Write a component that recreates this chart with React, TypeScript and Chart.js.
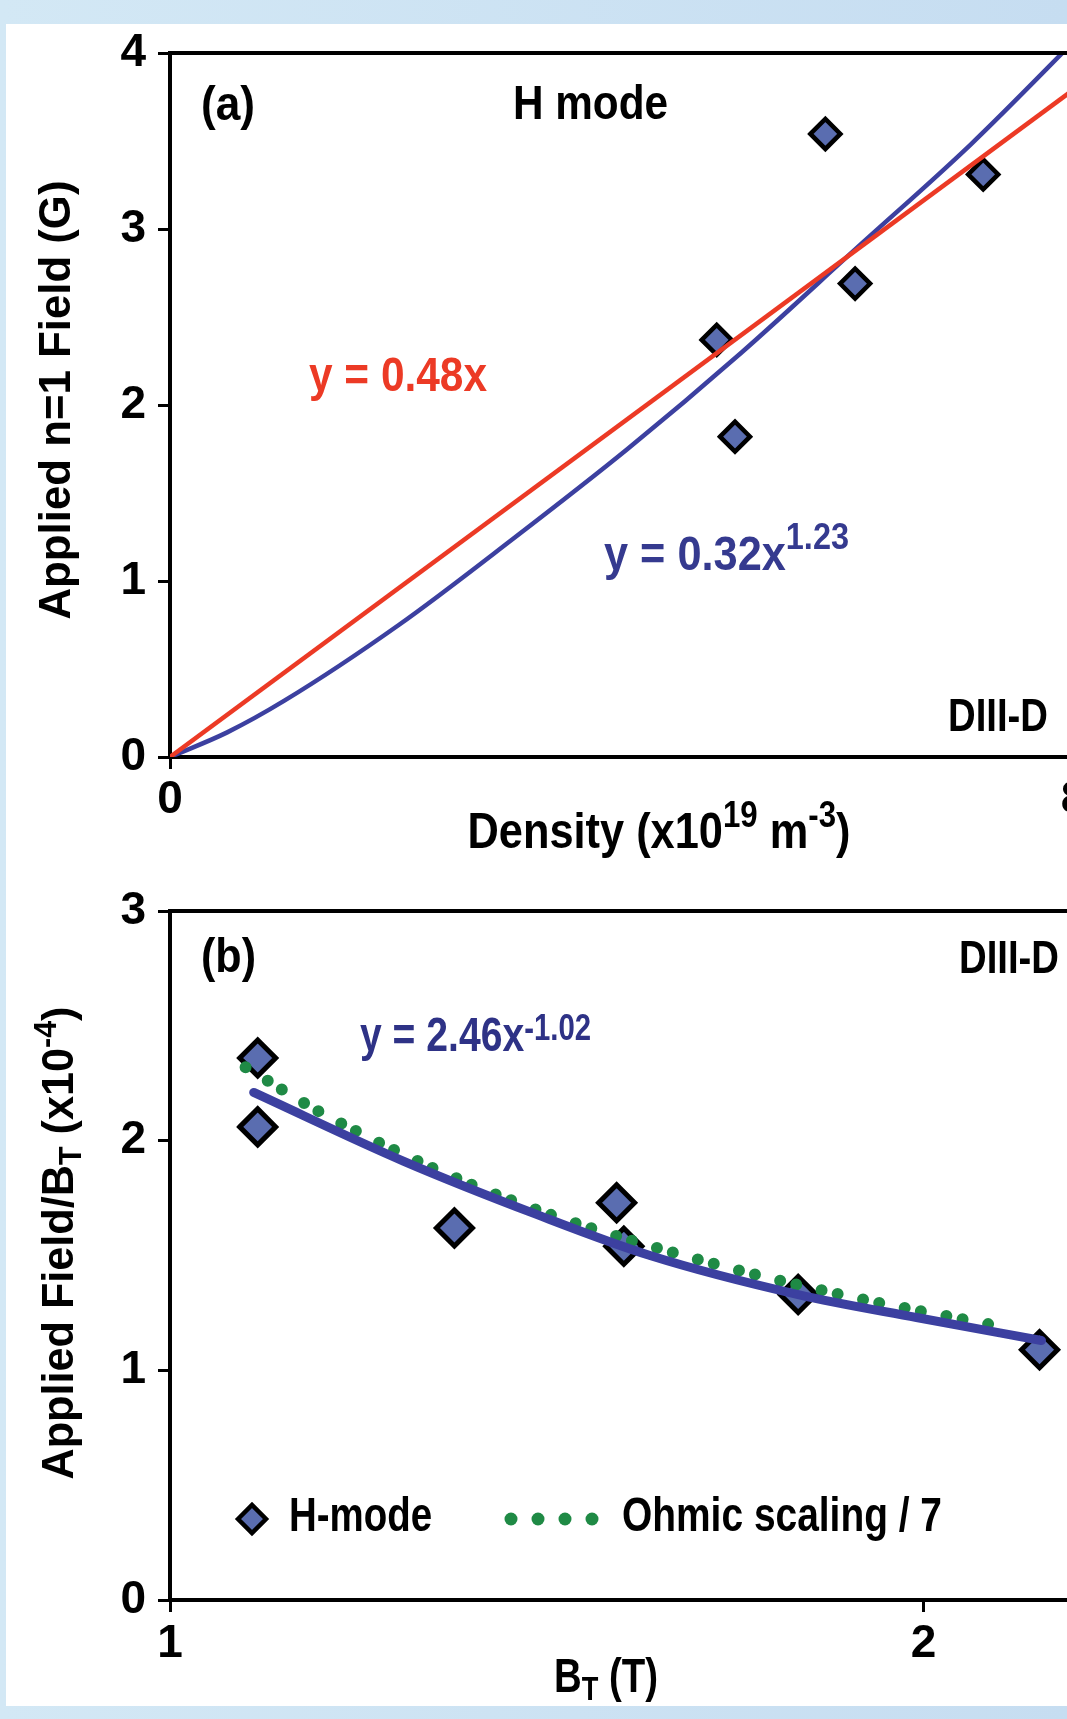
import React, { useEffect, useRef } from 'react';
import { Chart, registerables } from 'chart.js';

Chart.register(...registerables);

// ---------- Panel (a): Applied n=1 field vs density ----------
const densityTicks = [0, 8];
const fieldTicks = [0, 1, 2, 3, 4];
const hModeDensity = [4.78, 4.94, 5.73, 5.99, 7.11];
const hModeField = [2.37, 1.82, 3.54, 2.69, 3.31];
const linFitDensity = [0, 8];
const linFitField = [0, 3.84];
const powFitDensity = [0, 0.5, 1, 2, 3, 4, 5, 6, 7, 8];
const powFitField = [0, 0.14, 0.32, 0.75, 1.24, 1.75, 2.3, 2.89, 3.48, 4.13];

// ---------- Panel (b): Applied field / BT vs BT ----------
const btTicks = [1, 2];
const ratioTicks = [0, 1, 2, 3];
const hModeBt = [1.084, 1.084, 1.299, 1.508, 1.518, 1.782, 2.225];
const hModeRatio = [2.36, 2.06, 1.62, 1.73, 1.54, 1.33, 1.09];
const fitBt = [1.08, 1.24, 1.4, 1.555, 1.782, 1.987, 2.229];
const fitRatio = [2.21, 1.91, 1.68, 1.5, 1.33, 1.23, 1.13];
const ohmicBt = [1.072, 1.15, 1.277, 1.417, 1.628, 1.87, 2.125];
const ohmicRatio = [2.32, 2.12, 1.875, 1.68, 1.48, 1.32, 1.2];

const SANS = "'Liberation Sans', Arial, Helvetica, sans-serif";
const NARROW = "'Liberation Sans Narrow', 'Liberation Sans', Arial, sans-serif";
const RED = '#ec3a25';
const BLUE = '#3c40a0';
const BLUE_TEXT = '#353a8f';
const NAVY_TEXT = '#2e3286';
const DIAMOND = '#5a6db0';
const GREEN = '#1f8a45';

type Run = { t: string; size: number; dy?: number };

function drawRich(
  ctx: CanvasRenderingContext2D,
  runs: Run[],
  x: number,
  y: number,
  o: { color: string; width?: number; align?: 'left' | 'center'; rotate?: boolean }
) {
  ctx.save();
  let total = 0;
  const ws = runs.map((r) => {
    ctx.font = `bold ${r.size}px ${SANS}`;
    const w = ctx.measureText(r.t).width;
    total += w;
    return w;
  });
  const sx = o.width ? o.width / total : 1;
  ctx.translate(x, y);
  if (o.rotate) ctx.rotate(-Math.PI / 2);
  ctx.scale(sx, 1);
  ctx.fillStyle = o.color;
  ctx.textBaseline = 'alphabetic';
  ctx.textAlign = 'left';
  let cx = o.align === 'center' ? -total / 2 : 0;
  runs.forEach((r, i) => {
    ctx.font = `bold ${r.size}px ${SANS}`;
    ctx.fillText(r.t, cx, r.dy || 0);
    cx += ws[i];
  });
  ctx.restore();
}

const pts = (xs: number[], ys: number[]) => xs.map((x, i) => ({ x, y: ys[i] }));

const tickFont = { family: NARROW, size: 46, weight: 'bold' as const };

function axisCommon(tickPad: number) {
  return {
    ticks: { font: tickFont, color: '#000', padding: tickPad, maxRotation: 0, autoSkip: false },
    grid: {
      display: true,
      drawOnChartArea: false,
      drawTicks: true,
      tickLength: 12,
      tickWidth: 3,
      color: '#000',
    },
    border: { display: true, color: '#000', width: 4 },
  };
}

const topBorder = {
  id: 'topBorder',
  afterDraw(chart: any) {
    const { ctx, chartArea } = chart;
    ctx.save();
    ctx.strokeStyle = '#000';
    ctx.lineWidth = 4;
    ctx.beginPath();
    ctx.moveTo(chartArea.left - 2, chartArea.top);
    ctx.lineTo(chartArea.right + 20, chartArea.top);
    ctx.stroke();
    ctx.restore();
  },
};

const textA = {
  id: 'textA',
  afterDraw(chart: any) {
    const ctx = chart.ctx as CanvasRenderingContext2D;
    drawRich(ctx, [{ t: '(a)', size: 48 }], 201, 120, { color: '#000', width: 54 });
    drawRich(ctx, [{ t: 'H mode', size: 48 }], 513, 119, { color: '#000', width: 155 });
    drawRich(ctx, [{ t: 'y = 0.48x', size: 48 }], 309, 391, { color: RED, width: 178 });
    drawRich(
      ctx,
      [
        { t: 'y = 0.32x', size: 48 },
        { t: '1.23', size: 36, dy: -21 },
      ],
      604,
      570,
      { color: BLUE_TEXT, width: 245 }
    );
    drawRich(ctx, [{ t: 'DIII-D', size: 46 }], 948, 731, { color: '#000', width: 100 });
    drawRich(
      ctx,
      [
        { t: 'Density (x10', size: 50 },
        { t: '19', size: 36, dy: -21 },
        { t: ' m', size: 50 },
        { t: '-3', size: 36, dy: -21 },
        { t: ')', size: 50 },
      ],
      659,
      848,
      { color: '#000', width: 383, align: 'center' }
    );
    drawRich(ctx, [{ t: 'Applied n=1 Field (G)', size: 44 }], 70, 400, {
      color: '#000',
      width: 439,
      align: 'center',
      rotate: true,
    });
  },
};

const OFF_B = 862;
const textB = {
  id: 'textB',
  afterDraw(chart: any) {
    const ctx = chart.ctx as CanvasRenderingContext2D;
    const Y = (v: number) => v - OFF_B;
    drawRich(ctx, [{ t: '(b)', size: 48 }], 201, Y(972), { color: '#000', width: 55 });
    drawRich(ctx, [{ t: 'DIII-D', size: 46 }], 959, Y(973), { color: '#000', width: 100 });
    drawRich(
      ctx,
      [
        { t: 'y = 2.46x', size: 48 },
        { t: '-1.02', size: 36, dy: -11 },
      ],
      360,
      Y(1051),
      { color: NAVY_TEXT, width: 231 }
    );
    // legend
    const dx = 252;
    const dy = Y(1519);
    const r = 14;
    ctx.save();
    ctx.beginPath();
    ctx.moveTo(dx - r, dy);
    ctx.lineTo(dx, dy - r);
    ctx.lineTo(dx + r, dy);
    ctx.lineTo(dx, dy + r);
    ctx.closePath();
    ctx.fillStyle = DIAMOND;
    ctx.fill();
    ctx.lineWidth = 4.5;
    ctx.strokeStyle = '#000';
    ctx.stroke();
    ctx.fillStyle = GREEN;
    [511, 538, 565, 592].forEach((cx) => {
      ctx.beginPath();
      ctx.arc(cx, dy, 6.5, 0, Math.PI * 2);
      ctx.fill();
    });
    ctx.restore();
    drawRich(ctx, [{ t: 'H-mode', size: 48 }], 289, Y(1531), { color: '#000', width: 143 });
    drawRich(ctx, [{ t: 'Ohmic scaling / 7', size: 48 }], 622, Y(1531), {
      color: '#000',
      width: 320,
    });
    drawRich(
      ctx,
      [
        { t: 'B', size: 48 },
        { t: 'T', size: 34, dy: 8 },
        { t: ' (T)', size: 48 },
      ],
      606,
      Y(1692),
      { color: '#000', width: 104, align: 'center' }
    );
    drawRich(
      ctx,
      [
        { t: 'Applied Field/B', size: 44 },
        { t: 'T', size: 31, dy: 8 },
        { t: ' (x10', size: 44 },
        { t: '-4', size: 31, dy: -17 },
        { t: ')', size: 44 },
      ],
      73,
      Y(1243),
      { color: '#000', width: 473, align: 'center', rotate: true }
    );
  },
};

export default function App() {
  const refA = useRef<HTMLCanvasElement>(null);
  const refB = useRef<HTMLCanvasElement>(null);

  useEffect(() => {
    const cA = new Chart(refA.current as HTMLCanvasElement, {
      type: 'line',
      data: {
        datasets: [
          {
            label: 'H mode',
            data: pts(hModeDensity, hModeField),
            showLine: false,
            pointStyle: 'rectRot',
            pointRadius: 15,
            pointHoverRadius: 15,
            pointBackgroundColor: DIAMOND,
            pointBorderColor: '#000',
            pointBorderWidth: 4.5,
            order: 3,
          },
          {
            label: 'y = 0.32x^1.23',
            data: pts(powFitDensity, powFitField),
            borderColor: BLUE,
            borderWidth: 4.5,
            pointRadius: 0,
            cubicInterpolationMode: 'monotone',
            order: 2,
          },
          {
            label: 'y = 0.48x',
            data: pts(linFitDensity, linFitField),
            borderColor: RED,
            borderWidth: 4.5,
            pointRadius: 0,
            order: 1,
          },
        ],
      },
      options: {
        responsive: false,
        animation: false,
        events: [],
        layout: { padding: { left: 0, top: 53, right: 35, bottom: 0 } },
        plugins: { legend: { display: false }, tooltip: { enabled: false } },
        scales: {
          x: {
            type: 'linear',
            min: 0,
            max: 8,
            afterBuildTicks: (s: any) => {
              s.ticks = densityTicks.map((v) => ({ value: v }));
            },
            afterFit: (s: any) => {
              s.height = 123;
            },
            ...axisCommon(4),
            ticks: {
              font: tickFont,
              color: '#000',
              padding: 4,
              maxRotation: 0,
              autoSkip: false,
              callback: (v: any) => (v === 8 ? '8\u2002' : String(v)),
            },
          },
          y: {
            type: 'linear',
            min: 0,
            max: 4,
            afterBuildTicks: (s: any) => {
              s.ticks = fieldTicks.map((v) => ({ value: v }));
            },
            afterFit: (s: any) => {
              s.width = 170;
            },
            ...axisCommon(12),
          },
        },
      },
      plugins: [topBorder, textA],
    } as any);

    const cB = new Chart(refB.current as HTMLCanvasElement, {
      type: 'line',
      data: {
        datasets: [
          {
            label: 'H-mode',
            data: pts(hModeBt, hModeRatio),
            showLine: false,
            pointStyle: 'rectRot',
            pointRadius: 18,
            pointHoverRadius: 18,
            pointBackgroundColor: DIAMOND,
            pointBorderColor: '#000',
            pointBorderWidth: 5,
            order: 3,
          },
          {
            label: 'Ohmic scaling / 7',
            data: pts(ohmicBt, ohmicRatio),
            borderColor: GREEN,
            borderWidth: 12,
            borderDash: [0, 26, 0, 16.5],
            borderCapStyle: 'round',
            pointRadius: 0,
            cubicInterpolationMode: 'monotone',
            order: 2,
          },
          {
            label: 'y = 2.46x^-1.02',
            data: pts(fitBt, fitRatio),
            borderColor: BLUE,
            borderWidth: 9,
            borderCapStyle: 'round',
            pointRadius: 0,
            cubicInterpolationMode: 'monotone',
            order: 1,
          },
        ],
      },
      options: {
        responsive: false,
        animation: false,
        events: [],
        layout: { padding: { left: 0, top: 911 - OFF_B, right: 35, bottom: 0 } },
        plugins: { legend: { display: false }, tooltip: { enabled: false } },
        scales: {
          x: {
            type: 'logarithmic',
            min: 1,
            max: 2.32,
            afterBuildTicks: (s: any) => {
              s.ticks = btTicks.map((v) => ({ value: v }));
            },
            afterFit: (s: any) => {
              s.height = 1719 - 1600;
            },
            ...axisCommon(5),
            ticks: {
              font: tickFont,
              color: '#000',
              padding: 5,
              maxRotation: 0,
              autoSkip: false,
              callback: (v: any) => String(v),
            },
          },
          y: {
            type: 'linear',
            min: 0,
            max: 3,
            afterBuildTicks: (s: any) => {
              s.ticks = ratioTicks.map((v) => ({ value: v }));
            },
            afterFit: (s: any) => {
              s.width = 170;
            },
            ...axisCommon(12),
          },
        },
      },
      plugins: [topBorder, textB],
    } as any);

    return () => {
      cA.destroy();
      cB.destroy();
    };
  }, []);

  return (
    <div
      style={{
        position: 'absolute',
        left: 0,
        top: 0,
        width: 1067,
        height: 1719,
        overflow: 'hidden',
        background: 'linear-gradient(90deg, #d3e8f5, #c6ddf1)',
      }}
    >
      <div
        style={{ position: 'absolute', left: 6, top: 24, width: 1100, height: 1682, background: '#fff' }}
      />
      <canvas
        ref={refA}
        width={1120}
        height={880}
        style={{ position: 'absolute', left: 0, top: 0, width: 1120, height: 880 }}
      />
      <canvas
        ref={refB}
        width={1120}
        height={1719 - OFF_B}
        style={{ position: 'absolute', left: 0, top: OFF_B, width: 1120, height: 1719 - OFF_B }}
      />
    </div>
  );
}
